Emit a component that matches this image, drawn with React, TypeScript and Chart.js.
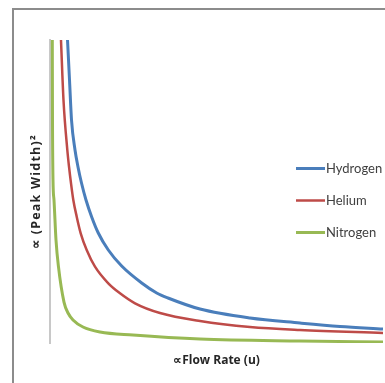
import React, { useEffect, useRef } from "react";
import { Chart, registerables } from "chart.js";

Chart.register(...registerables);

const seriesLabels = ["Hydrogen", "Helium", "Nitrogen"];
const seriesColors = ["#4a7ebb", "#be4b48", "#98b954"];
const seriesWidths = [3, 2.5, 3];

const hydrogenX = [5.26, 5.86, 6.46, 7.51, 8.41, 9.46, 10.81, 12.52, 14.5, 17.51, 21.53, 27.54, 32.04, 35.44, 45.05, 60.06, 75.08, 87.09, 100];
const hydrogenY = [100, 86.8, 73.6, 63.7, 58.1, 52.8, 47.2, 41.6, 36.3, 30.7, 25.4, 19.8, 16.5, 14.85, 11.2, 8.25, 6.6, 5.45, 4.6];

const heliumX = [3.3, 4.05, 5.2, 5.71, 6.31, 7.0, 8.02, 9.22, 11.02, 13.51, 17.51, 21.02, 25.53, 33.03, 45.05, 60.06, 75.08, 100];
const heliumY = [100, 80.2, 63.7, 58.2, 52.7, 47.2, 41.7, 36.2, 30.7, 25.2, 19.7, 16.4, 13.1, 9.9, 7.26, 5.28, 4.29, 3.3];

const nitrogenX = [0.69, 0.75, 0.9, 1.2, 1.8, 2.55, 4.2, 5.41, 6.91, 9.91, 15.02, 24.92, 45.05, 75.08, 100];
const nitrogenY = [100, 73.6, 53.8, 47.2, 34.0, 25.1, 13.5, 9.9, 7.6, 5.28, 3.63, 2.64, 1.32, 0.66, 0.33];

const xTitle = "\u221dFlow Rate (u)";
const yTitle = "\u221d (Peak Width)\u00b2";

const FONT = "'Open Sans', sans-serif";
const LEGEND_FONT = "Lato, 'Open Sans', sans-serif";

const toPoints = (xs: number[], ys: number[]) => xs.map((x, i) => ({ x, y: ys[i] }));

const overlayPlugin = {
  id: "overlay",
  afterDraw(chart: any) {
    const ctx = chart.ctx;
    // legend
    ctx.save();
    const startX = 296;
    const lineLen = 29;
    const rows = [168.5, 200.5, 232.5];
    chart.data.datasets.forEach((ds: any, i: number) => {
      const y = rows[i];
      ctx.strokeStyle = ds.borderColor;
      ctx.lineWidth = ds.borderWidth;
      ctx.beginPath();
      ctx.moveTo(startX, y);
      ctx.lineTo(startX + lineLen, y);
      ctx.stroke();
      ctx.fillStyle = "#404040";
      ctx.font = `13px ${LEGEND_FONT}`;
      ctx.textAlign = "left";
      ctx.textBaseline = "middle";
      ctx.fillText(ds.label, startX + lineLen + 1, y);
    });
    ctx.restore();
    // y axis title
    ctx.save();
    const area = chart.chartArea;
    ctx.translate(36.5, (area.top + area.bottom) / 2);
    ctx.rotate(-Math.PI / 2);
    ctx.font = `bold 12.5px ${FONT}`;
    (ctx as any).letterSpacing = "1.2px";
    ctx.fillStyle = "#262626";
    ctx.textAlign = "center";
    ctx.textBaseline = "middle";
    ctx.fillText(yTitle, 0, 0);
    ctx.restore();
  },
};

export default function App() {
  const ref = useRef<HTMLCanvasElement | null>(null);
  useEffect(() => {
    if (!ref.current) return;
    const datasets = [
      toPoints(hydrogenX, hydrogenY),
      toPoints(heliumX, heliumY),
      toPoints(nitrogenX, nitrogenY),
    ].map((data, i) => ({
      label: seriesLabels[i],
      data,
      borderColor: seriesColors[i],
      backgroundColor: seriesColors[i],
      borderWidth: seriesWidths[i],
      pointRadius: 0,
      showLine: true,
      fill: false,
      cubicInterpolationMode: "monotone" as const,
    }));
    const chart = new Chart(ref.current, {
      type: "scatter",
      data: { datasets },
      plugins: [overlayPlugin],
      options: {
        animation: false,
        responsive: false,
        layout: { padding: { left: 50, right: 2, top: 40, bottom: 5.6 } },
        plugins: { legend: { display: false }, tooltip: { enabled: false } },
        scales: {
          x: {
            type: "linear",
            min: 0,
            max: 100,
            grid: { display: false, drawTicks: false },
            border: { display: false },
            ticks: { display: false },
            title: {
              display: true,
              text: xTitle,
              color: "#262626",
              font: { family: FONT, size: 12, weight: "bold" },
              padding: { top: 10, bottom: 10 },
            },
          },
          y: {
            type: "linear",
            min: 0,
            max: 100,
            grid: { display: false, drawTicks: false },
            border: { display: true, color: "#c8c8c8", width: 2 },
            ticks: { display: false },
            title: { display: false },
          },
        },
      },
    });
    return () => chart.destroy();
  }, []);
  return (
    <div style={{ position: "fixed", left: 0, top: 0, width: 385, height: 383, overflow: "hidden", background: "#fff" }}>
      <div
        style={{
          position: "absolute",
          left: 12,
          top: 8,
          width: 400,
          height: 400,
          borderLeft: "2px solid #8c8c8c",
          borderTop: "2px solid #8c8c8c",
        }}
      />
      <canvas ref={ref} width={385} height={383} style={{ position: "absolute", left: 0, top: 0 }} />
    </div>
  );
}
